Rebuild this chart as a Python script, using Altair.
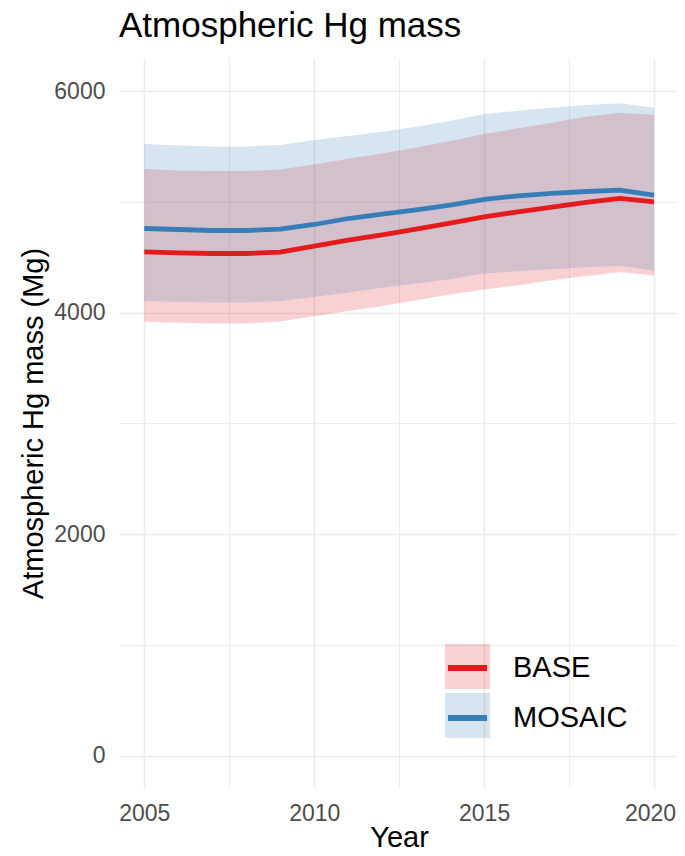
import altair as alt
import pandas as pd

years = list(range(2005, 2021))
series_names = ["BASE", "MOSAIC"]
series_colors = ["#E41A1C", "#377EB8"]

base_mean = [4548, 4539, 4533, 4533, 4545, 4599, 4654, 4702, 4753, 4807, 4864, 4910, 4952, 4994, 5030, 5000]
base_lo = [3916, 3907, 3901, 3901, 3919, 3967, 4015, 4060, 4111, 4163, 4208, 4247, 4292, 4331, 4365, 4337]
base_hi = [5295, 5283, 5277, 5277, 5292, 5337, 5389, 5437, 5491, 5548, 5611, 5663, 5714, 5768, 5804, 5783]

mosaic_mean = [4759, 4750, 4741, 4741, 4753, 4795, 4849, 4889, 4928, 4970, 5021, 5054, 5075, 5093, 5105, 5060]
mosaic_lo = [4105, 4096, 4090, 4090, 4105, 4142, 4181, 4223, 4262, 4301, 4352, 4374, 4392, 4410, 4422, 4377]
mosaic_hi = [5521, 5509, 5500, 5500, 5512, 5557, 5593, 5633, 5678, 5729, 5792, 5822, 5849, 5873, 5889, 5849]

x_ticks = [2005, 2007.5, 2010, 2012.5, 2015, 2017.5, 2020]
y_ticks = [0, 1000, 2000, 3000, 4000, 5000, 6000]

rows = []
for name, m, lo, hi in [("BASE", base_mean, base_lo, base_hi),
                        ("MOSAIC", mosaic_mean, mosaic_lo, mosaic_hi)]:
    for yr, a, b, c in zip(years, m, lo, hi):
        rows.append({"year": yr, "series": name, "run": name, "mean": a, "lo": b, "hi": c})
df = pd.DataFrame(rows)

FONT = "Liberation Sans"
GRID = "#EBEBEB"

x_axis = alt.Axis(
    values=x_ticks, format="d",
    labelExpr="datum.value % 5 === 0 ? datum.label : ''",
    title="Year", titleFont=FONT, titleFontSize=29, titleFontWeight="normal",
    titleColor="#000000", titleX=280, titleY=58, titleBaseline="alphabetic",
    titleAlign="center",
    labelFont=FONT, labelFontSize=23, labelColor="#4D4D4D",
    labelBaseline="alphabetic", labelPadding=32,
    labelOffset={"condition": {"test": "datum.value === 2020", "value": -4}, "value": 0},
    ticks=False, domain=False, gridColor=GRID,
    gridWidth={"condition": {"test": "datum.value % 5 === 0", "value": 1.6}, "value": 0.9},
)
y_axis = alt.Axis(
    values=y_ticks, format="d",
    labelExpr="datum.value % 2000 === 0 ? datum.label : ''",
    title="Atmospheric Hg mass (Mg)", titleFont=FONT, titleFontSize=29,
    titleFontWeight="normal", titleColor="#000000", titleX=-77, titleY=365,
    titleBaseline="alphabetic", titleAlign="center", titleAngle=270,
    labelFont=FONT, labelFontSize=23, labelColor="#4D4D4D", labelPadding=14,
    ticks=False, domain=False, gridColor=GRID,
    gridWidth={"condition": {"test": "datum.value % 2000 === 0", "value": 1.6}, "value": 0.9},
)

x_enc = alt.X("year:Q", scale=alt.Scale(domain=[2004.255, 2020.677], nice=False, zero=False), axis=x_axis)
y_scale = alt.Scale(domain=[-292, 6298], nice=False, zero=False)

fill_legend = alt.Legend(
    title=None, orient="none", legendX=326, legendY=586, padding=0,
    symbolType="square", symbolSize=2025, symbolOpacity=0.2,
    symbolStrokeWidth=0,
    labelFont=FONT, labelFontSize=29, labelExpr="''",
    labelOffset=20, rowPadding=4, zindex=1,
)
stroke_legend = alt.Legend(
    title=None, orient="none", legendX=323, legendY=584.5, padding=0,
    symbolType="M-1,-0.4667M1,0.4667M-0.87,0H0.87", symbolSize=2025,
    symbolStrokeWidth=6, symbolFillColor="transparent",
    labelFont=FONT, labelFontSize=29, labelColor="#000000",
    labelOffset=20, rowPadding=1, zindex=2,
)

band = alt.Chart(df).mark_area(opacity=0.2).encode(
    x=x_enc,
    y=alt.Y("lo:Q", scale=y_scale, axis=y_axis),
    y2="hi:Q",
    fill=alt.Fill("series:N", scale=alt.Scale(domain=series_names, range=series_colors), legend=fill_legend),
)
line = alt.Chart(df).mark_line(strokeWidth=4.8).encode(
    x=x_enc,
    y=alt.Y("mean:Q", scale=y_scale, axis=y_axis),
    stroke=alt.Stroke("run:N", scale=alt.Scale(range=series_colors), legend=stroke_legend),
)

chart = alt.layer(band, line).properties(
    width=558, height=730,
    autosize=alt.AutoSizeParams(type="none"),
    padding={"left": 111, "top": 50, "right": 0, "bottom": 60},
    title=alt.Title("Atmospheric Hg mass", anchor="start", frame="group",
                    font=FONT, fontSize=35, fontWeight="normal", color="#000000",
                    baseline="alphabetic", offset=-14),
).configure_view(stroke=None)

chart.save("out.html", embed_options={"renderer": "svg", "actions": False})
